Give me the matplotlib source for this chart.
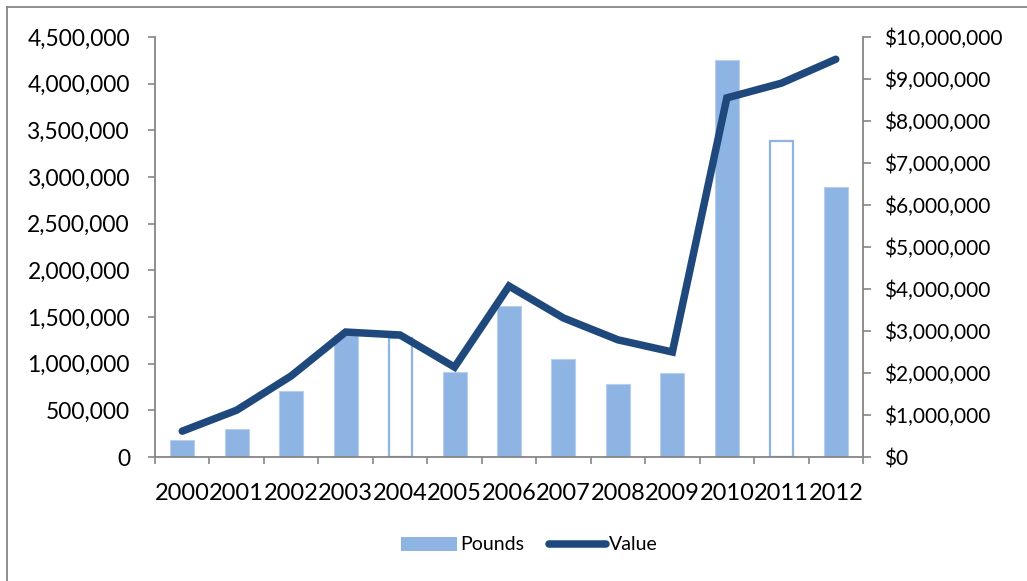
import matplotlib
matplotlib.use("Agg")
import matplotlib.pyplot as plt
from matplotlib.ticker import FuncFormatter, MultipleLocator
from matplotlib.lines import Line2D
from matplotlib.patches import Patch

# data
years = ['2000', '2001', '2002', '2003', '2004', '2005', '2006',
         '2007', '2008', '2009', '2010', '2011', '2012']
pounds = [180000, 300000, 705000, 1305000, 1275000, 910000, 1615000,
          1050000, 780000, 900000, 4250000, 3385000, 2890000]
value = [615000, 1115000, 1930000, 2975000, 2905000, 2140000, 4070000,
         3310000, 2790000, 2500000, 8550000, 8900000, 9470000]
hollow = ['2004', '2011']  # bars drawn as outline only

bar_color = '#8EB4E3'
line_color = '#1F497D'
axis_gray = '#868686'

plt.rcParams['font.family'] = ['Lato', 'DejaVu Sans']

fig = plt.figure(figsize=(10.27, 5.81), dpi=100)
ax = fig.add_axes([155 / 1027, 1 - 457 / 581, 708 / 1027, 420 / 581])
ax2 = ax.twinx()

x = list(range(len(years)))
for i, (yr, p) in enumerate(zip(years, pounds)):
    if yr in hollow:
        ax.bar(i, p, width=0.42, color='white', edgecolor=bar_color,
               linewidth=1.6, zorder=2)
    else:
        ax.bar(i, p, width=0.44, color=bar_color, edgecolor='#B8CFEC',
               linewidth=0.8, zorder=2)

ax2.plot(x, value, color=line_color, linewidth=5.4,
         solid_capstyle='round', solid_joinstyle='miter', zorder=3)

ax.set_xlim(-0.5, len(years) - 0.5)
ax.set_ylim(0, 4500000)
ax2.set_ylim(0, 10000000)
ax.yaxis.set_major_locator(MultipleLocator(500000))
ax2.yaxis.set_major_locator(MultipleLocator(1000000))
ax.yaxis.set_major_formatter(FuncFormatter(lambda v, p: f'{int(v):,}'))
ax2.yaxis.set_major_formatter(FuncFormatter(lambda v, p: f'${int(v):,}'))

ax.set_xticks(x)
ax.set_xticklabels(years)
ax.set_xticks([i - 0.5 for i in range(len(years) + 1)], minor=True)
ax.tick_params(axis='x', which='major', length=0, pad=19, labelsize=17)
ax.tick_params(axis='x', which='minor', length=5, width=1.2, color=axis_gray)
ax.tick_params(axis='y', length=5, width=1.2, color=axis_gray, labelsize=16.4, pad=13)
ax2.tick_params(axis='y', length=6, width=1.2, color=axis_gray, labelsize=15, pad=9)

for a in (ax, ax2):
    a.spines['top'].set_visible(False)
    for s in ('left', 'right', 'bottom'):
        a.spines[s].set_color(axis_gray)
        a.spines[s].set_linewidth(1.3)
ax.spines['right'].set_visible(False)
ax2.spines['left'].set_visible(False)
ax2.spines['bottom'].set_visible(False)

# outer chart frame (only left and top edges are inside the picture)
fig.add_artist(Line2D([7 / 1027, 7 / 1027], [0, 1 - 7 / 581],
                      transform=fig.transFigure, color=axis_gray, lw=1.3))
fig.add_artist(Line2D([7 / 1027, 1], [1 - 7 / 581, 1 - 7 / 581],
                      transform=fig.transFigure, color=axis_gray, lw=1.3))

handles = [Patch(facecolor=bar_color, label='Pounds'),
           Line2D([0], [0], color=line_color, lw=5.4, solid_capstyle='round', label='Value')]
fig.legend(handles=handles, loc='center', bbox_to_anchor=(529 / 1027, 1 - 545 / 581),
           ncol=2, frameon=False, fontsize=14, handlelength=2.9, handletextpad=0.15,
           columnspacing=1.3)

fig.savefig('out.png', dpi=100)
